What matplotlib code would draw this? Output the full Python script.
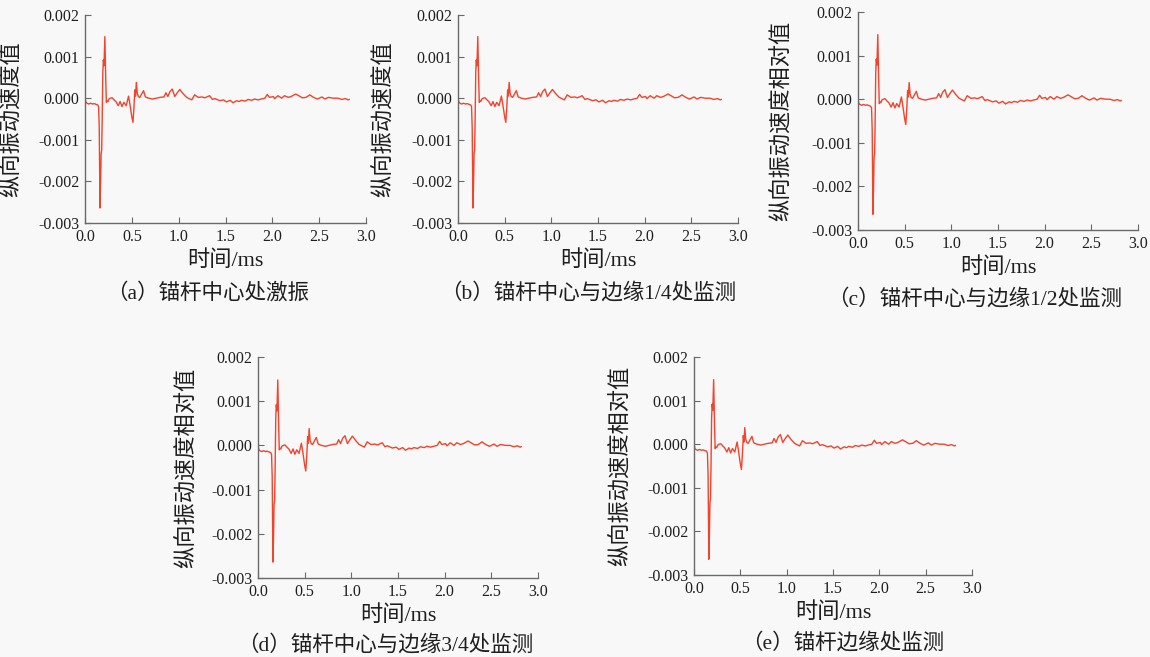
import matplotlib
matplotlib.use("Agg")
import matplotlib.pyplot as plt
from matplotlib.ticker import FormatStrFormatter

# ---- longitudinal vibration velocity ----
t_ms = [0.000, 0.010, 0.020, 0.040, 0.060, 0.080, 0.100, 0.120, 0.135, 0.145,
        0.152, 0.160, 0.167, 0.172, 0.178, 0.183, 0.190, 0.196, 0.203, 0.212,
        0.222, 0.228, 0.235, 0.245, 0.255, 0.270, 0.290, 0.310, 0.330, 0.355,
        0.375, 0.395, 0.415, 0.440, 0.465, 0.480, 0.500, 0.512, 0.522, 0.532,
        0.540, 0.548, 0.558, 0.570, 0.585, 0.600, 0.625, 0.645, 0.680, 0.720,
        0.760, 0.800, 0.843, 0.864, 0.885, 0.907, 0.932, 0.958, 0.985, 1.012,
        1.050, 1.085, 1.140, 1.170, 1.210, 1.250, 1.280, 1.330, 1.360, 1.385,
        1.410, 1.440, 1.480, 1.510, 1.550, 1.580, 1.620, 1.645, 1.670, 1.710,
        1.740, 1.780, 1.810, 1.850, 1.880, 1.920, 1.946, 1.970, 2.010, 2.025,
        2.060, 2.100, 2.130, 2.170, 2.200, 2.250, 2.290, 2.320, 2.360, 2.400,
        2.440, 2.480, 2.530, 2.560, 2.600, 2.650, 2.700, 2.740, 2.780, 2.810,
        2.820]
vel = [0.00000, -0.00010, -0.00012, -0.00014, -0.00012, -0.00014, -0.00013, -0.00015, -0.00016, -0.00020,
       -0.00070, -0.00264, -0.00200, -0.00134, -0.00125, -0.00060, 0.00060, 0.00092, 0.00078, 0.00148,
       0.00040, -0.00010, -0.00006, -0.00008, -0.00002, 0.00000, 0.00001, -0.00004, -0.00008, -0.00018,
       -0.00008, -0.00020, -0.00010, -0.00018, 0.00005, -0.00015, -0.00045, -0.00058, -0.00025, 0.00020,
       0.00005, 0.00038, 0.00012, 0.00004, 0.00002, 0.00008, 0.00018, 0.00003, 0.00000, -0.00002,
       0.00000, 0.00002, 0.00003, 0.00013, 0.00004, 0.00016, 0.00022, 0.00004, 0.00013, 0.00021,
       0.00010, 0.00002, -0.00004, 0.00008, 0.00002, 0.00003, 0.00001, 0.00006, -0.00003, -0.00001,
       -0.00003, -0.00006, -0.00004, -0.00009, -0.00005, -0.00011, -0.00006, -0.00008, -0.00005, -0.00007,
       -0.00003, -0.00005, -0.00002, -0.00004, -0.00002, 0.00000, 0.00009, 0.00002, 0.00004, -0.00001,
       0.00006, 0.00000, 0.00006, 0.00002, 0.00004, 0.00010, 0.00005, 0.00001, 0.00002, 0.00008,
       0.00002, -0.00002, 0.00003, -0.00002, 0.00002, 0.00000, 0.00000, -0.00003, -0.00001, -0.00004,
       -0.00003]

ylabels = ['纵向振动速度值', '纵向振动速度值', '纵向振动速度相对值',
           '纵向振动速度相对值', '纵向振动速度相对值']
captions = ['（a）锚杆中心处激振', '（b）锚杆中心与边缘1/4处监测', '（c）锚杆中心与边缘1/2处监测',
            '（d）锚杆中心与边缘3/4处监测', '（e）锚杆边缘处监测']
x_ticks = [0.0, 0.5, 1.0, 1.5, 2.0, 2.5, 3.0]
y_ticks = [-0.003, -0.002, -0.001, 0.000, 0.001, 0.002]

W, H = 1150, 657
# axes boxes in pixels: left, top, right, bottom
boxes = [(85, 15, 366, 223), (458, 15, 738, 223), (858, 12, 1138, 230),
         (258, 357, 538, 578), (694, 357, 972, 575)]
ylab_off = [62, 63, 65, 60, 62]   # y-label centre, px left of the spine
cap_pos = [(208, 293), (588, 293), (975, 299), (385, 645), (843, 643)]

FAM = ['Liberation Serif', 'Noto Sans CJK SC']
LINE = '#f2432c'
SPINE = '#6a6a6a'
TXT = '#1e1e1e'

fig = plt.figure(figsize=(W / 100, H / 100), dpi=100, facecolor='#f8f8f8')

for i, (l, t, r, b) in enumerate(boxes):
    ax = fig.add_axes([l / W, 1 - b / H, (r - l) / W, (b - t) / H])
    ax.set_facecolor('none')
    ax.plot(t_ms, vel, color=LINE, linewidth=1.0)
    ax.set_xlim(0, 3.0)
    ax.set_ylim(-0.003, 0.002)
    ax.set_xticks(x_ticks)
    ax.set_yticks(y_ticks)
    ax.xaxis.set_major_formatter(FormatStrFormatter('%.1f'))
    ax.yaxis.set_major_formatter(FormatStrFormatter('%.3f'))
    ax.tick_params(direction='in', length=4, width=0.8, color=SPINE,
                   labelsize=11.5, labelcolor=TXT, pad=4)
    for lab in ax.get_xticklabels() + ax.get_yticklabels():
        lab.set_family('Liberation Serif')
    for s in ['top', 'right']:
        ax.spines[s].set_visible(False)
    for s in ['left', 'bottom']:
        ax.spines[s].set_color(SPINE)
        ax.spines[s].set_linewidth(1.0)
    ax.set_xlabel('时间/ms', family=FAM, fontsize=16, color=TXT, labelpad=4)
    ax.set_ylabel(ylabels[i], family=FAM, fontsize=16, color=TXT)
    ax.yaxis.set_label_coords(-ylab_off[i] / (r - l), 0.5)
    cx, cy = cap_pos[i]
    fig.text(cx / W, 1 - cy / H, captions[i], family=FAM, fontsize=15.5,
             color=TXT, ha='center', va='center')

fig.savefig('out.png', dpi=100, facecolor=fig.get_facecolor())
